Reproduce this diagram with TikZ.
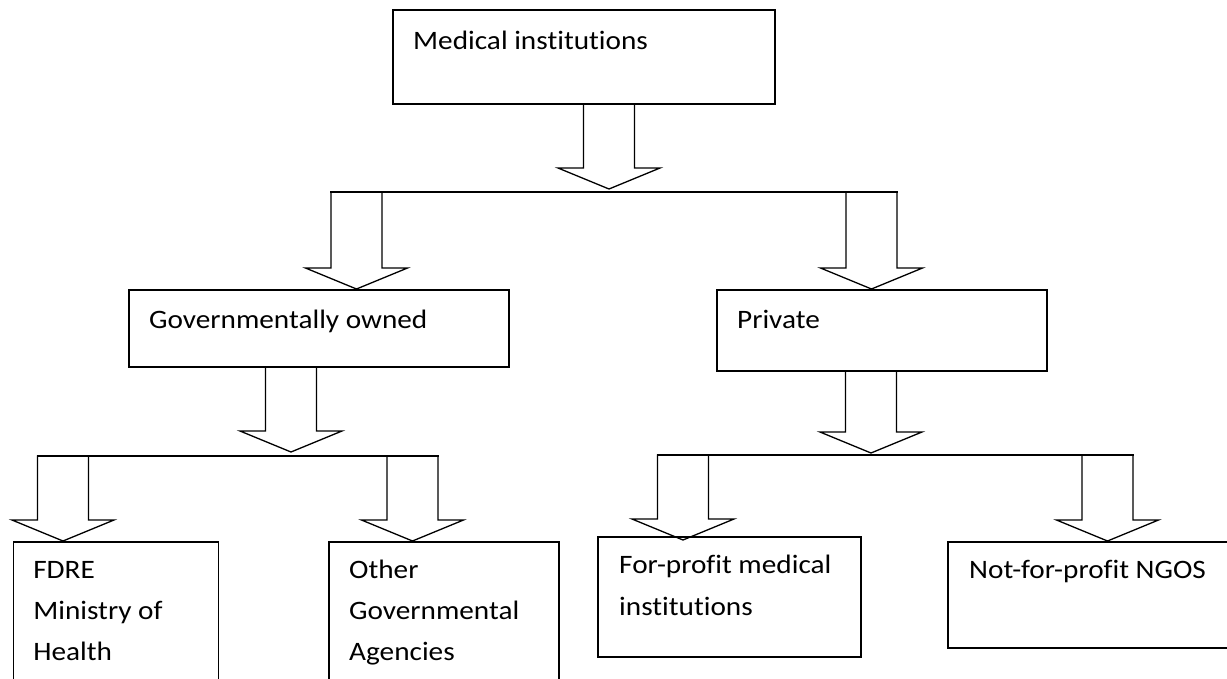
\documentclass[tikz,border=0pt]{standalone}
\usepackage{fontspec}
\setmainfont{Carlito}[Ligatures=NoCommon, FakeStretch=1.1]
\usetikzlibrary{calc}

\tikzset{
  box/.style={draw, line width=1.6pt, anchor=north west, inner sep=0pt},
  boxtext/.style={anchor=base west, inner sep=0pt, align=flush left,
    font=\fontsize{26.6}{41}\selectfont},
  fat/.style={line width=1.3pt, line cap=rect},
}

% block arrow: #1 = top of the shaft (centre), #2 = tip
\newcommand{\blockarrow}[2]{%
  \draw[fat] let \p1=#1, \p2=#2 in
    (\x2-25.5pt,\y1) -- (\x2-25.5pt,\y2+21pt) -- (\x2-51pt,\y2+21pt) -- (\p2)
    -- (\x2+51pt,\y2+21pt) -- (\x2+25.5pt,\y2+21pt) -- (\x2+25.5pt,\y1);
}

\begin{document}
\begin{tikzpicture}[x=1pt, y=-1pt]
    \useasboundingbox (0,0) rectangle (1227,678);
    \clip (0,0) rectangle (1227,678);

    % boxes
    \node[box, minimum width=382pt, minimum height=94pt] (med) at (392,9) {};
    \node[box, minimum width=380pt, minimum height=77pt] (gov) at (128,289) {};
    \node[box, minimum width=330pt, minimum height=81pt] (priv) at (716,289) {};
    \node[box, minimum width=205pt, minimum height=170pt] (fdre) at (12.6,541) {};
    \node[box, minimum width=230pt, minimum height=170pt] (other) at (328,541) {};
    \node[box, minimum width=263pt, minimum height=120pt] (forprof) at (597,536) {};
    \node[box, minimum width=300pt, minimum height=106pt] (ngos) at (947,541) {};

    % texts
    \node[boxtext] (med-t) at ([shift={(21,40)}]med.north west) {Medical institutions};
    \node[boxtext] (gov-t) at ([shift={(21,39)}]gov.north west) {Governmentally owned};
    \node[boxtext] (priv-t) at ([shift={(21,39)}]priv.north west) {Private};
    \node[boxtext, text width=180pt] (fdre-t) at ([shift={(20.5,37)}]fdre.north west) {FDRE\\Ministry of\\Health};
    \node[boxtext, text width=200pt] (other-t) at ([shift={(21,37)}]other.north west) {Other\\Governmental\\Agencies};
    \node[boxtext, text width=240pt, font=\fontsize{26.6}{42}\selectfont] (forprof-t) at ([shift={(22,37)}]forprof.north west) {For-profit medical\\institutions};
    \node[boxtext] (ngos-t) at ([shift={(22,37)}]ngos.north west) {Not-for-profit NGOS};

    % split points
    \coordinate (s1) at (609,192);
    \coordinate (g) at (356.5,192);
    \coordinate (p) at (871.5,192);
    \coordinate (s2) at (291,456);
    \coordinate (f) at (63,456);
    \coordinate (o) at (412.5,456);
    \coordinate (s3) at (871,455);
    \coordinate (fp) at (683,455);
    \coordinate (ng) at (1107.5,455);

    % arrows
    \blockarrow{(s1 |- med.south)}{([yshift=3pt]s1)}
    \draw[fat] ([xshift=-25.5pt]g) -- ([xshift=25.5pt]p);
    \blockarrow{(g)}{(g |- gov.north)}
    \blockarrow{(p)}{(p |- priv.north)}

    \blockarrow{(s2 |- gov.south)}{([yshift=4pt]s2)}
    \draw[fat] ([xshift=-25.5pt]f) -- ([xshift=25.5pt]o);
    \blockarrow{(f)}{(f |- fdre.north)}
    \blockarrow{(o)}{(o |- other.north)}

    \blockarrow{(s3 |- priv.south)}{([yshift=2pt]s3)}
    \draw[fat] ([xshift=-25.5pt]fp) -- ([xshift=25.5pt]ng);
    \blockarrow{(fp)}{($(fp |- forprof.north)+(0,4)$)}
    \blockarrow{(ng)}{(ng |- ngos.north)}
\end{tikzpicture}
\end{document}
